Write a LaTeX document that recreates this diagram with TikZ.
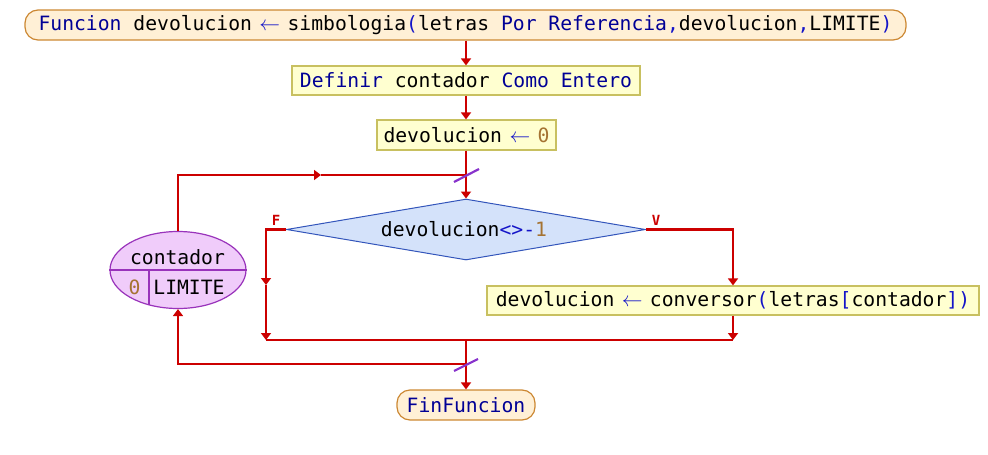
\documentclass[tikz,border=0pt]{standalone}
\usepackage{fontspec}
\setmainfont{DejaVu Sans Mono}
\usetikzlibrary{shapes.geometric,arrows.meta,calc}
\definecolor{flowred}{RGB}{204,0,0}
\definecolor{slashc}{RGB}{136,51,204}
\definecolor{kwc}{RGB}{0,0,150}
\definecolor{opc}{RGB}{20,20,200}
\definecolor{numc}{RGB}{165,115,50}
\definecolor{termfill}{RGB}{255,240,214}
\definecolor{termdraw}{RGB}{204,136,51}
\definecolor{procfill}{RGB}{255,255,208}
\definecolor{procdraw}{RGB}{200,192,96}
\definecolor{decfill}{RGB}{212,226,250}
\definecolor{decdraw}{RGB}{51,85,187}
\definecolor{ellfill}{RGB}{240,204,250}
\definecolor{elldraw}{RGB}{153,51,187}
\newcommand{\kw}[1]{\textcolor{kwc}{#1}}
\newcommand{\op}[1]{\textcolor{opc}{#1}}
\newcommand{\nm}[1]{\textcolor{numc}{#1}}
\newcommand{\asg}{\textcolor{opc}{\makebox[11.8pt]{$\leftarrow$}}}
\tikzset{
  flow/.style={draw=flowred, line width=2.2pt},
  arr/.style={flow, -{Triangle[width=10pt,length=7pt]}},
  txt/.style={font=\fontsize{19.7}{24}\selectfont, text=black},
  termbox/.style={txt, rectangle, rounded corners=13pt, fill=termfill, draw=termdraw, line width=1.2pt, minimum height=30pt, inner sep=0pt},
  procbox/.style={txt, rectangle, fill=procfill, draw=procdraw, line width=1.2pt, minimum height=29pt, inner sep=0pt},
  decbox/.style={txt, diamond, aspect=5.9, fill=decfill, draw=decdraw, line width=1pt, inner sep=0pt, minimum width=359pt, minimum height=61pt},
  ellbox/.style={ellipse, fill=ellfill, draw=elldraw, line width=1.2pt, minimum width=136pt, minimum height=77pt, inner sep=0pt},
  lbl/.style={font=\fontsize{14}{16}\selectfont\bfseries, text=flowred, inner sep=0pt},
  slash/.style={draw=slashc, line width=2.2pt}
}
\begin{document}
\begin{tikzpicture}[x=1pt,y=-1pt]
\useasboundingbox (0,0) rectangle (988,455);
% nodes
\node[termbox, minimum width=881pt] (top) at (465.5,25) {\kw{Funcion} devolucion \asg{} simbologia\op{(}letras \kw{Por Referencia}\op{,}devolucion\op{,}LIMITE\op{)}};
\node[procbox, minimum width=348pt] (def) at (466,80.5) {\kw{Definir} contador \kw{Como Entero}};
\node[procbox, minimum width=179pt, minimum height=30pt] (init) at (466.5,135) {devolucion \asg{} \nm{0}};
\node[decbox] (dia) at (466,229.5) {\hspace*{-4pt}devolucion\op{<>-}\nm{1}};
\node[procbox, minimum width=492pt] (conv) at (733,300.5) {devolucion \asg{} conversor\op{(}letras\op{[}contador\op{])}};
\node[termbox, minimum width=138pt] (fin) at (466,405) {\kw{FinFuncion}};
\node[ellbox] (ell) at (178,270) {};
\node[txt, inner sep=0pt] (ellvar) at (177.5,257.5) {contador};
\node[txt, inner sep=0pt] (ellini) at (134.5,287) {\nm{0}};
\node[txt, inner sep=0pt] (ellfin) at (189,287) {LIMITE};
\draw[draw=elldraw, line width=1.2pt] (ell.west) -- (ell.east);
\coordinate (divtop) at (149,270);
\coordinate (divbot) at (149,304.5);
\draw[draw=elldraw, line width=1.2pt] (divtop) -- (divbot);
\node[lbl] (flab) at (276,220) {F};
\node[lbl] (vlab) at (656,220) {V};
% coordinates
\coordinate (j1) at (466,175);
\coordinate (lt) at (178,175);
\coordinate (la) at (321,175);
\coordinate (fc) at (266,229.5);
\coordinate (fa) at (266,285);
\coordinate (fd) at (266,340);
\coordinate (vc) at (733,229.5);
\coordinate (vd) at (733,340);
\coordinate (j2) at (466,340);
\coordinate (j3) at (466,364);
\coordinate (lb) at (178,364);
% connectors
\draw[arr] (top.south -| def.north) -- (def.north);
\draw[arr] (def.south) -- (init.north -| def.south);
\draw[flow] (init.south -| j1) -- (j1);
\draw[arr] (j1) -- (dia.north);
\draw[arr] (ell.north) -- (lt) -- (la);
\draw[flow] (la) -- (j1);
\draw[arr] (dia.west) -- (fc) -- (fa);
\draw[arr] (fa) -- (fd);
\draw[arr] (dia.east) -- (vc) -- (conv.north);
\draw[arr] (conv.south) -- (vd);
\draw[flow] (fd) -- (vd);
\draw[flow] (j2) -- (j3);
\draw[arr] (j3) -- (fin.north);
\draw[arr] (j3) -- (lb) -- (ell.south);
% slashes
\draw[slash] ($(j1)+(-12,7)$) -- ($(j1)+(13,-6)$);
\draw[slash] ($(j3)+(-12,7)$) -- ($(j3)+(12,-5)$);
\end{tikzpicture}
\end{document}
